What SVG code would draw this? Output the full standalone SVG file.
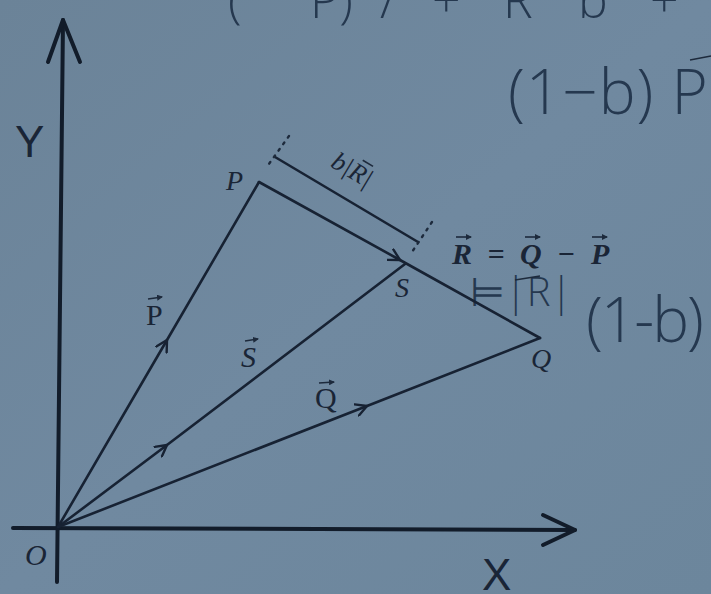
<svg xmlns="http://www.w3.org/2000/svg" width="711" height="594" viewBox="0 0 711 594">
<defs>
<linearGradient id="bg" x1="0" y1="0" x2="1" y2="1">
<stop offset="0" stop-color="#6b8398"/>
<stop offset="0.5" stop-color="#7089a0"/>
<stop offset="1" stop-color="#6c869c"/>
</linearGradient>
<marker id="mid" viewBox="-12 -7 14 14" markerWidth="14" markerHeight="14" refX="0" refY="0" orient="auto" markerUnits="userSpaceOnUse">
<path d="M-11,-6 L0,0 L-11,6" fill="none" stroke="#172233" stroke-width="2.4" stroke-linecap="round" stroke-linejoin="round"/>
</marker>
<marker id="acc" viewBox="0 0 6 6" markerWidth="6" markerHeight="6" refX="5" refY="3" orient="auto" markerUnits="userSpaceOnUse">
<path d="M0,0 L6,3 L0,6 Z" fill="#1d2a3c"/>
</marker>
</defs>
<style>
.ln{fill:none;stroke:#172233;stroke-width:2.6;stroke-linecap:round}
.ax{fill:none;stroke:#121c2a;stroke-width:4;stroke-linecap:round;stroke-linejoin:round}
.dot{fill:none;stroke:#1d2a3c;stroke-width:2.4;stroke-dasharray:2 6;stroke-linecap:round}
.lab{font-family:"Liberation Serif",serif;font-style:italic;fill:#1a2536}
.up{font-family:"Liberation Serif",serif;fill:#1a2536}
.sans{font-family:"Liberation Sans",Arial,sans-serif;fill:#1a2536}
.hw{font-family:"Open Sans","DejaVu Sans",sans-serif;font-weight:300;fill:#25384f}
.acc{fill:none;stroke:#1d2a3c;stroke-width:1.6}
</style>
<rect width="711" height="594" fill="url(#bg)"/>

<g id="handwriting">
<text class="hw" font-size="50" y="18" xml:space="preserve"><tspan x="228">(</tspan><tspan x="310">P)</tspan><tspan x="380">/</tspan><tspan x="432">+</tspan><tspan x="503">R</tspan><tspan x="578">b</tspan><tspan x="650">+</tspan></text>
<text class="hw" font-size="62" x="508" y="114" letter-spacing="1">(1−b) P</text>
<path d="M690,60 L711,56" class="acc" stroke="#25384f"/>
<text class="hw" font-size="40" x="470" y="306">⊨|R|</text>
<path d="M515,280 L540,276" class="acc" stroke="#25384f"/>
<text class="hw" font-size="62" x="586" y="342" letter-spacing="-2">(1-b)</text>
</g>

<g id="axes">
<path class="ax" d="M57,582 L63,20"/>
<path class="ax" d="M48,62 L63,20 L80,62"/>
<path class="ax" d="M13,528 L575,530"/>
<path class="ax" d="M543,515 L575,530 L543,545"/>
</g>

<g id="connectors">
<path class="ln" d="M58,527 L167,340 L259,182" marker-mid="url(#mid)"/>
<path class="ln" d="M58,527 L167,445 L405,264" marker-mid="url(#mid)"/>
<path class="ln" d="M58,527 L367,406 L540,338" marker-mid="url(#mid)"/>
<path class="ln" d="M259,182 L400,260 L540,338" marker-mid="url(#mid)"/>
<path class="ln" d="M275,157 L418,242" stroke-width="2.2"/>
<path class="dot" d="M289,136 L266,168"/>
<path class="dot" d="M432,222 L410,255"/>
</g>

<g id="node-O"><text class="lab" font-size="30" x="25" y="565">O</text></g>
<g id="node-P"><text class="lab" font-size="28" x="226" y="190">P</text></g>
<g id="node-S"><text class="lab" font-size="28" x="395" y="297">S</text></g>
<g id="node-Q"><text class="lab" font-size="28" x="531" y="368">Q</text></g>
<g id="label-Y"><text class="sans" font-size="44" x="15" y="157">Y</text></g>
<g id="label-X"><text class="sans" font-size="44" x="482" y="590">X</text></g>

<g id="label-vecP">
<text class="up" font-size="30" x="146" y="325">P</text>
<path class="acc" d="M148,299 L162,297" marker-end="url(#acc)"/>
</g>
<g id="label-vecS">
<text class="lab" font-size="30" x="241" y="367">S</text>
<path class="acc" d="M245,341 L258,339" marker-end="url(#acc)"/>
</g>
<g id="label-vecQ">
<text class="up" font-size="30" x="315" y="408">Q</text>
<path class="acc" d="M319,383 L334,382" marker-end="url(#acc)"/>
</g>

<g id="label-bR" transform="translate(348,177) rotate(31)">
<text class="lab" font-size="26" x="0" y="0" text-anchor="middle">b|R|</text>
<path class="acc" d="M4,-22 L16,-22"/>
</g>

<g id="label-R">
<text class="lab" font-size="30" font-weight="bold" x="452" y="264" letter-spacing="4">R = Q − P</text>
<path class="acc" d="M456,237 L471,237" marker-end="url(#acc)"/>
<path class="acc" d="M525,237 L540,237" marker-end="url(#acc)"/>
<path class="acc" d="M592,237 L607,237" marker-end="url(#acc)"/>
</g>
</svg>
